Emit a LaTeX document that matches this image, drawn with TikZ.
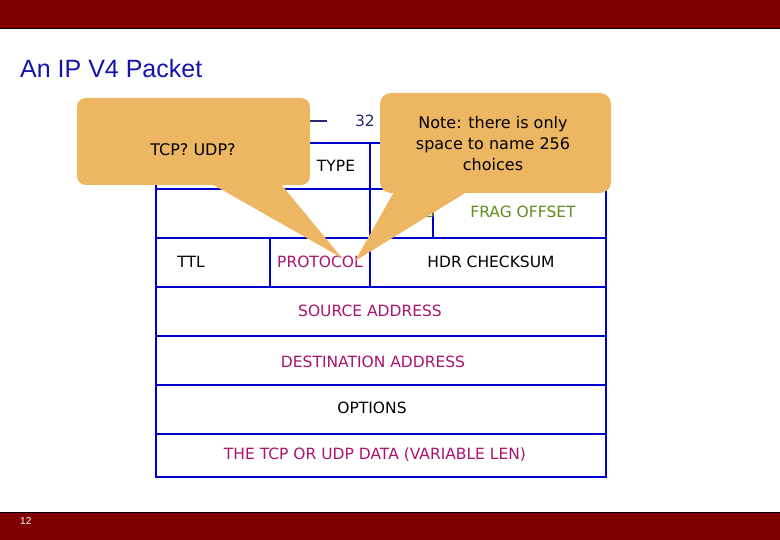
\documentclass[tikz,border=0pt]{standalone}
\usepackage{fontspec}
\setmainfont{DejaVu Sans}
\newfontfamily\arialf{Liberation Sans}
\definecolor{bar}{RGB}{128,0,0}
\definecolor{navy}{RGB}{40,40,110}
\definecolor{ttl}{RGB}{20,20,170}
\definecolor{purp}{RGB}{170,20,110}
\definecolor{grnc}{RGB}{100,140,30}
\definecolor{callc}{RGB}{237,182,98}
\begin{document}
\begin{tikzpicture}[x=1pt,y=-1pt,
  grid/.style={draw=blue!80!black,line width=1.8pt},
  lbl/.style={font=\fontsize{15.5}{17}\selectfont,inner sep=0pt},
  pur/.style={lbl,text=purp},
  grn/.style={lbl,text=grnc},
  call/.style={fill=callc,draw=none},
  ctext/.style={font=\fontsize{16}{21}\selectfont,align=center,inner sep=0pt}]
\useasboundingbox (0,0) rectangle (780,540);
\fill[white] (0,0) rectangle (780,540);
\fill[bar] (0,0) rectangle (780,28);
\draw[black,line width=0.6pt] (0,28) -- (780,28);
\fill[bar] (0,512) rectangle (780,540);
\draw[black,line width=0.6pt] (0,512) -- (780,512);
\node[anchor=west,text=white,font=\arialf\fontsize{10}{11}\selectfont,inner sep=0pt] (pg) at (20,521) {12};
\node[anchor=west,text=ttl,font=\arialf\fontsize{25}{28}\selectfont,inner sep=0pt] (title) at (20,69) {An IP V4 Packet};
% header
\node[lbl,text=navy] (w32) at (365,121) {32};
\coordinate (la) at (310,121); \coordinate (lb) at (327,121);
\draw[navy,line width=1.2pt] (la) -- (lb);
\coordinate (lc) at (403,121); \coordinate (ld) at (560,121);
\draw[navy,line width=1.2pt] (lc) -- (ld);
% table
\draw[grid] (156,143) rectangle (606,477);
\foreach \y in {189,238,287,336,385,434} \draw[grid] (156,\y) -- (606,\y);
\draw[grid] (270,143) -- (270,189);
\draw[grid] (370,143) -- (370,287);
\draw[grid] (490,143) -- (490,189);
\draw[grid] (433,189) -- (433,238);
\draw[grid] (270,238) -- (270,287);
\node[lbl] (type) at (336,166) {TYPE};
\node[grn] (fl) at (410,212) {FLAGS};
\node[grn] (frag) at (523,212) {FRAG OFFSET};
\node[lbl] (ttlx) at (191,262) {TTL};
\node[pur] (proto) at (320,262) {PROTOCOL};
\node[lbl] (hdr) at (491,262) {HDR CHECKSUM};
\node[pur] (src) at (370,311) {SOURCE ADDRESS};
\node[pur] (dst) at (373,362) {DESTINATION ADDRESS};
\node[lbl] (opt) at (372,408) {OPTIONS};
\node[pur] (data) at (375,455) {THE TCP OR UDP DATA (VARIABLE LEN)};
% callouts
\coordinate (t1) at (342,258);
\fill[call,rounded corners=9pt] (77,98) rectangle (310,185);
\fill[call] (210,183) -- (t1) -- (280,183) -- cycle;
\node[ctext] (c1) at (193,150) {TCP? UDP?};
\coordinate (t2) at (355,261);
\fill[call,rounded corners=11pt] (380,93) rectangle (611,193);
\fill[call] (395,190) -- (t2) -- (470,190) -- cycle;
\node[ctext] (c2) at (493,144) {Note: there is only\\space to name 256\\choices};
\end{tikzpicture}
\end{document}
